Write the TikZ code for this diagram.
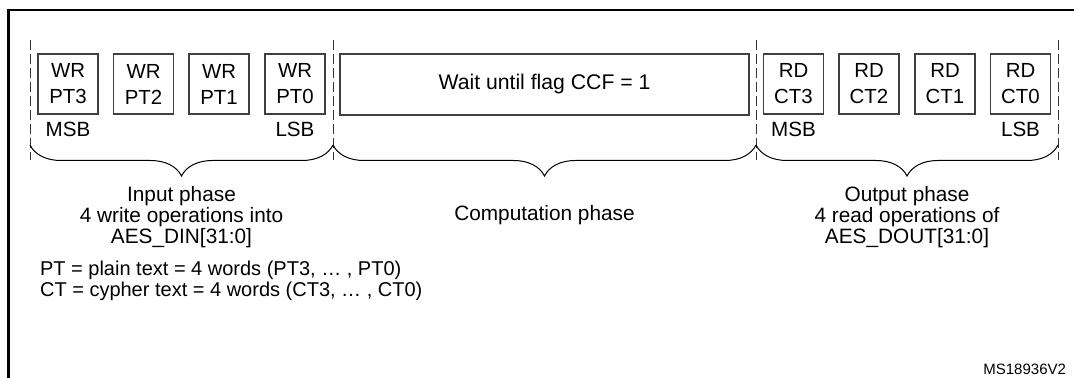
\documentclass[tikz,border=0pt]{standalone}
\usepackage{fontspec}
\setmainfont{Liberation Sans}
\usetikzlibrary{decorations.pathreplacing}

\begin{document}
\begin{tikzpicture}[x=0.5pt, y=-0.5pt, opbox/.style={draw=black!75, line width=0.6pt, minimum width=30pt, minimum height=30pt, inner sep=0pt, align=center, font=\fontsize{10.2}{13}\selectfont}, waitbox/.style={opbox, minimum width=204.5pt, minimum height=30.5pt, font=\fontsize{10.6}{13}\selectfont}, bitlbl/.style={anchor=base, font=\fontsize{10.3}{12}\selectfont}, phaselbl/.style={align=center, font={\fontsize{10.4}{10.6}\selectfont\lineskiplimit=-5pt}}, note/.style={anchor=base west, font=\fontsize{10}{11}\selectfont}, sep/.style={dash pattern=on 5pt off 2pt, line width=0.5pt, draw=black!80}, brc/.style={decorate, decoration={brace, mirror, amplitude=15.5pt}, line width=0.5pt}
]
  \useasboundingbox (0,0) rectangle (1074,378);
  % frame
  \draw[line width=1.25pt] (8.5,378) -- (8.5,10) -- (1074,10);
  % operations
  \node[opbox] (wr3) at (68,84) {WR\\PT3};
  \node[opbox] (wr2) at (143.5,84) {WR\\PT2};
  \node[opbox] (wr1) at (219,84) {WR\\PT1};
  \node[opbox] (wr0) at (295,84) {WR\\PT0};
  \node[waitbox] (wait) at (544.5,84.5) {Wait until flag CCF = 1};
  \node[opbox] (rd3) at (793.5,84) {RD\\CT3};
  \node[opbox] (rd2) at (869,84) {RD\\CT2};
  \node[opbox] (rd1) at (945,84) {RD\\CT1};
  \node[opbox] (rd0) at (1020.5,84) {RD\\CT0};
  \node[bitlbl] (wrmsb) at (68,137) {MSB};
  \node[bitlbl] (wrlsb) at (295,137) {LSB};
  \node[bitlbl] (rdmsb) at (793.5,137) {MSB};
  \node[bitlbl] (rdlsb) at (1020.5,137) {LSB};
  % phase limits
  \coordinate (s0) at (30,40);
  \coordinate (s1) at (333,40);
  \coordinate (s2) at (756,40);
  \coordinate (s3) at (1058,40);
  \coordinate (e0) at (30,160);
  \coordinate (e1) at (333,160);
  \coordinate (e2) at (756,160);
  \coordinate (e3) at (1058,160);
  \draw[sep] (s0) -- (e0);
  \draw[sep] (s1) -- (e1);
  \draw[sep] (s2) -- (e2);
  \draw[sep] (s3) -- (e3);
  \coordinate (b0) at (30,145);
  \coordinate (b1) at (333,145);
  \coordinate (b2) at (756,145);
  \coordinate (b3) at (1058,145);
  \draw[brc] (b0) -- (b1);
  \draw[brc] (b1) -- (b2);
  \draw[brc] (b2) -- (b3);
  % phase labels
  \node[phaselbl] (inlbl) at (181.5,217) {Input phase\\4 write operations into\\AES\_DIN[31:0]};
  \node[phaselbl, anchor=base] (complbl) at (544.5,221) {Computation phase};
  \node[phaselbl] (outlbl) at (907,217) {Output phase\\4 read operations of\\AES\_DOUT[31:0]};
  % notes
  \node[note] (ptnote) at (33,276) {PT = plain text = 4 words (PT3, … , PT0)};
  \node[note] (ctnote) at (33,297) {CT = cypher text = 4 words (CT3, … , CT0)};
  \node[anchor=base east, font=\fontsize{7.5}{9}\selectfont] (figid) at (1073,375) {MS18936V2};
\end{tikzpicture}
\end{document}
